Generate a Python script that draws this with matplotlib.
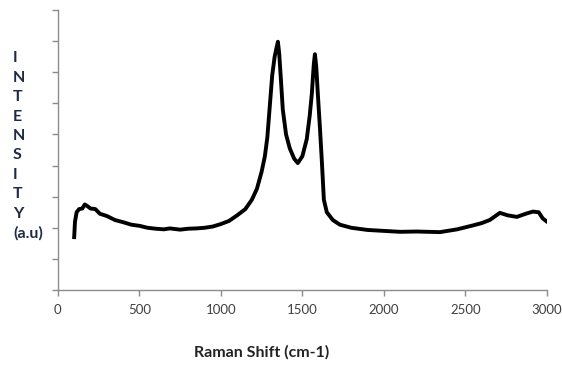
import numpy as np
import matplotlib.pyplot as plt

# Raman spectrum (arbitrary intensity units)
raman_shift = [100, 105, 115, 130, 150, 165, 180, 200, 230, 258, 300, 350, 400, 450,
               503, 550, 600, 650, 687, 750, 800, 850, 900, 950, 1000, 1050, 1100,
               1150, 1190, 1221, 1250, 1270, 1285, 1300, 1315, 1330, 1342, 1350, 1358,
               1368, 1380, 1400, 1423, 1450, 1472, 1500, 1527, 1545, 1558, 1570, 1577,
               1585, 1595, 1608, 1620, 1632, 1650, 1687, 1730, 1800, 1900, 2000, 2100,
               2200, 2344, 2450, 2550, 2600, 2650, 2712, 2760, 2816, 2870, 2914, 2950,
               2975, 3000]
intensity = [1.7, 2.2, 2.5, 2.6, 2.62, 2.75, 2.7, 2.62, 2.6, 2.45, 2.38, 2.25, 2.18, 2.1,
             2.06, 2.0, 1.97, 1.95, 1.98, 1.94, 1.97, 1.98, 2.0, 2.04, 2.12, 2.22, 2.4,
             2.6, 2.9, 3.25, 3.8, 4.3, 4.9, 5.9, 6.9, 7.5, 7.8, 7.98, 7.6,
             6.8, 5.8, 5.0, 4.55, 4.22, 4.08, 4.3, 4.85, 5.6, 6.3, 7.25, 7.58,
             7.2, 6.3, 5.2, 4.1, 2.9, 2.5, 2.25, 2.1, 2.0, 1.93, 1.9, 1.87,
             1.88, 1.86, 1.95, 2.08, 2.15, 2.25, 2.48, 2.4, 2.35, 2.45, 2.52, 2.5,
             2.3, 2.2]

x_ticks = [0, 500, 1000, 1500, 2000, 2500, 3000]

fig = plt.figure(figsize=(5.62, 3.65), dpi=100)
ax = fig.add_axes([0.103, 0.2055, 0.870, 0.767])

ax.plot(raman_shift, intensity, color='black', linewidth=2.8, solid_joinstyle='round')

ax.set_xlim(0, 3000)
ax.set_ylim(0, 9)
ax.set_xticks(x_ticks)
ax.set_yticks(np.arange(0, 10))
ax.set_yticklabels([])

for s in ['top', 'right']:
    ax.spines[s].set_visible(False)
for s in ['left', 'bottom']:
    ax.spines[s].set_color('#8c8c8c')
    ax.spines[s].set_linewidth(1.0)
ax.tick_params(axis='both', colors='#8c8c8c', length=4, width=1.0)
ax.tick_params(axis='x', labelcolor='#404040', labelsize=9.5, pad=6)
for lab in ax.get_xticklabels():
    lab.set_fontfamily('Lato')

fig.text(262 / 562, 1 - 352 / 365, 'Raman Shift (cm-1)', ha='center', va='center',
         fontsize=11.5, fontweight='bold', color='#222222', family='Lato')
fig.text(13 / 562, 1 - 146 / 365, 'I\nN\nT\nE\nN\nS\nI\nT\nY\n(a.u)', ha='left',
         va='center', fontsize=11.5, fontweight='bold', color='#1f2a44', family='Lato',
         linespacing=1.49)

fig.savefig('out.png', dpi=100)
